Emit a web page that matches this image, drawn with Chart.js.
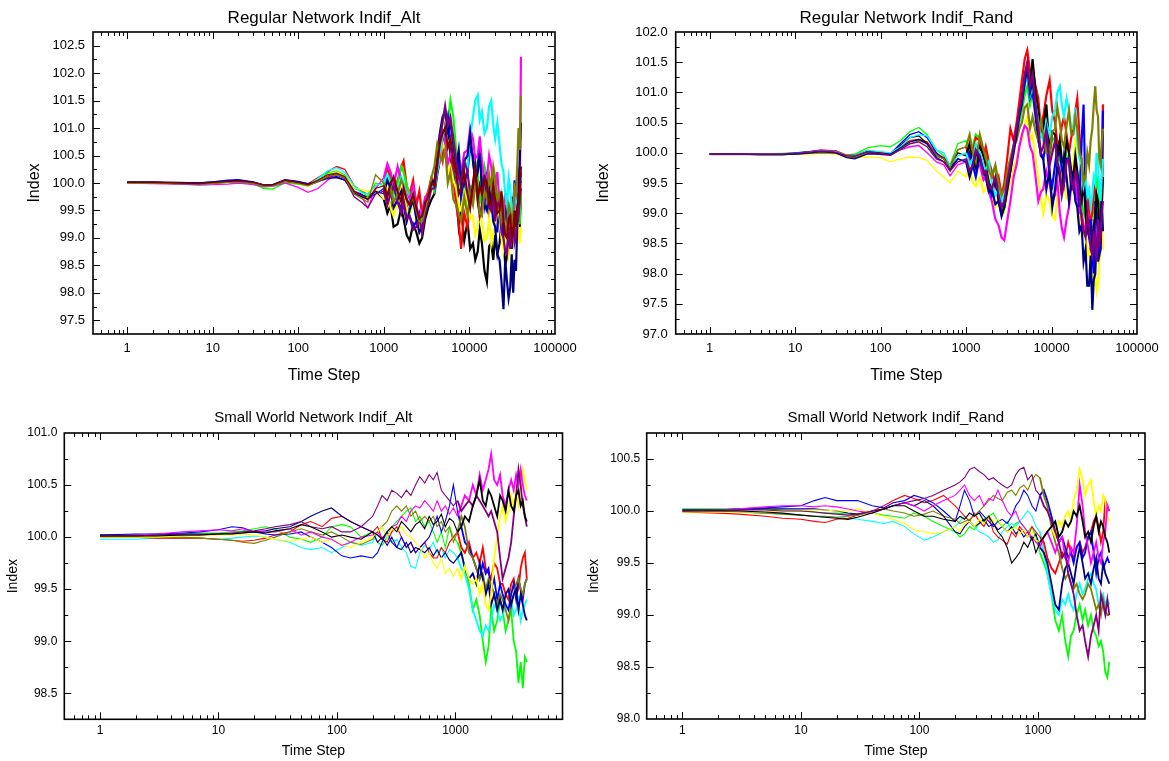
<!DOCTYPE html>
<html><head><meta charset="utf-8">
<script src="https://cdn.jsdelivr.net/npm/chart.js@4.4.1/dist/chart.umd.min.js"></script>
<style>
html,body{margin:0;padding:0;background:#fff;}
#wrap{position:relative;width:1169px;height:761px;overflow:hidden;background:#fff;}
canvas{position:absolute;}
</style></head><body>
<div id="wrap">
<canvas id="c1" width="584" height="392" style="left:0;top:0"></canvas>
<canvas id="c2" width="585" height="392" style="left:584px;top:0"></canvas>
<canvas id="c3" width="584" height="369" style="left:0;top:392px"></canvas>
<canvas id="c4" width="585" height="369" style="left:584px;top:392px"></canvas>
</div>
<script>
// ---------- axis tick labels ----------
const topXLabels = [1, 10, 100, 1000, 10000, 100000];
const botXLabels = [1, 10, 100, 1000];
const tlYLabels = [97.5, 98.0, 98.5, 99.0, 99.5, 100.0, 100.5, 101.0, 101.5, 102.0, 102.5];
const trYLabels = [97.0, 97.5, 98.0, 98.5, 99.0, 99.5, 100.0, 100.5, 101.0, 101.5, 102.0];
const blYLabels = [98.5, 99.0, 99.5, 100.0, 100.5, 101.0];
const brYLabels = [98.0, 98.5, 99.0, 99.5, 100.0, 100.5];

// ---------- time steps ----------
const topSteps = [1,2,4,7,10,15,20,30,40,50,70,100,130,170,220,280,350,450,550,650,800,
  1000,1100,1200,1300,1450,1600,1700,1850,2000,2200,2400,2600,2800,3050,3300,3600,3900,4200,4500,4850,5200,5600,6000,6500,7000,7500,8000,8700,9500,10200,
  11000,11700,12500,13200,14000,15000,16000,17000,18000,19000,20000,21200,22500,23700,25000,26200,27500,28700,30000,31200,32500,33700,35000,36200,37500,38700,40000];
const botSteps = [1,2,3,5,7,10,13,16,20,25,30,40,50,60,75,90,110,130,160,
  200,220,240,265,290,320,350,385,420,460,500,550,600,650,700,760,820,890,960,1040,1120,1200,1300,1400,1500,1600,1700,1800,1900,2000,
  2120,2250,2380,2500,2650,2800,2950,3100,3250,3400,3550,3700,3850,4000];

// ---------- Regular Network Indif_Alt ----------
const tlBlack = [100.00,100.00,99.99,99.98,100.00,100.02,100.03,100.00,99.95,99.96,100.04,100.00,99.97,100.05,100.12,100.18,100.10,99.82,99.78,99.75,99.85,
  99.70,99.45,99.60,99.20,99.25,99.55,99.35,99.05,98.95,99.25,99.10,98.90,99.00,99.35,99.55,99.70,99.80,100.15,100.40,100.95,100.80,101.10,100.50,100.15,99.80,99.20,99.50,98.95,99.30,98.80,
  98.90,98.60,98.75,99.15,98.90,98.40,98.20,98.85,98.90,98.60,99.05,98.70,98.90,99.30,99.05,98.50,98.65,99.30,99.10,98.80,99.25,99.60,99.00,99.50,99.45,99.20,99.80];
const tlRed = [100.01,100.01,100.00,99.99,100.01,100.03,100.03,100.01,99.96,99.95,100.05,100.02,99.98,100.10,100.20,100.30,100.25,99.95,99.85,99.80,99.95,
  100.00,100.25,100.10,99.85,100.05,100.30,100.40,99.95,99.80,100.05,99.60,99.85,99.40,99.70,99.85,100.10,100.00,100.35,100.60,100.40,101.00,100.75,100.70,100.10,99.60,99.30,98.80,99.45,99.20,99.65,
  99.80,100.25,100.10,99.75,99.70,100.25,100.00,99.45,99.60,100.10,99.90,99.55,99.40,99.75,99.20,99.55,99.60,99.05,99.10,99.75,99.50,99.05,99.30,99.70,99.80,99.40,100.20];
const tlGreen = [100.00,100.00,99.99,99.98,100.00,100.01,100.02,99.98,99.90,99.89,100.00,99.98,99.95,100.05,100.18,100.22,100.15,99.90,99.85,99.75,100.00,
  99.95,100.15,100.05,99.80,100.00,100.30,100.20,99.95,99.80,99.65,99.55,99.30,99.40,99.60,99.70,99.95,99.85,100.30,100.70,101.10,101.30,101.05,101.50,101.20,100.60,100.10,99.80,100.15,99.60,99.95,
  99.90,100.40,100.20,99.65,99.80,100.30,100.10,99.55,99.70,100.05,99.80,99.40,99.30,99.75,99.50,99.05,99.20,99.65,99.40,99.00,99.60,99.35,99.20,99.70,99.50,99.25,99.80];
const tlBlue = [100.01,100.01,100.00,100.00,100.02,100.05,100.06,100.02,99.96,99.97,100.06,100.03,99.99,100.04,100.10,100.12,100.05,99.85,99.80,99.70,99.80,
  99.90,99.70,99.95,100.10,99.70,99.50,99.85,99.60,99.40,99.20,99.30,99.45,99.15,99.50,99.70,99.95,99.90,100.20,100.50,100.80,100.90,101.20,100.70,100.40,100.10,100.50,99.70,100.00,100.20,100.65,
  100.50,100.00,100.30,100.70,99.90,99.60,100.20,99.85,99.60,99.95,99.40,99.10,99.80,99.30,99.10,99.60,99.30,98.90,99.00,99.45,99.60,100.05,99.80,99.30,99.50,100.20,100.00];
const tlYellow = [100.00,100.00,99.99,99.98,99.99,100.01,100.02,99.99,99.94,99.94,100.02,99.99,99.94,100.04,100.15,100.20,100.12,99.92,99.88,99.85,99.90,
  99.70,99.85,99.55,99.40,99.65,99.90,99.80,99.55,99.40,99.65,99.50,99.20,99.30,99.55,99.80,100.05,99.95,100.25,100.40,100.75,100.60,100.20,100.30,100.05,99.90,99.60,99.50,99.85,99.70,99.35,
  99.40,99.05,99.20,99.50,99.30,98.95,99.00,99.35,98.90,99.10,99.20,99.55,99.40,99.00,98.80,99.05,99.20,98.70,98.90,99.20,99.30,99.80,99.60,99.30,99.10,98.90,99.20];
const tlMagenta = [100.00,99.99,99.98,99.96,99.97,99.98,100.00,99.97,99.93,99.94,100.00,99.92,99.83,99.90,100.05,100.15,100.10,99.85,99.75,99.55,99.90,
  100.10,100.35,100.20,99.95,100.30,100.05,100.00,99.80,99.70,99.95,99.60,99.35,99.50,99.75,99.80,100.05,100.00,100.25,100.40,100.90,100.80,100.35,100.50,100.70,100.30,100.00,100.20,100.55,100.60,101.00,
  100.80,100.45,100.50,100.85,100.40,100.00,100.10,100.50,100.30,99.90,99.90,100.20,99.60,99.30,99.30,99.80,99.80,99.20,99.40,99.00,99.20,99.70,99.60,100.10,100.20,99.60,102.30];
const tlCyan = [100.00,100.00,99.99,99.98,99.99,100.01,100.02,100.00,99.95,99.95,100.03,100.00,99.96,100.08,100.22,100.28,100.20,99.95,99.82,99.80,99.95,
  100.00,100.15,99.90,99.70,99.85,100.10,100.00,99.75,99.60,99.80,99.50,99.30,99.40,99.60,99.70,99.95,99.90,100.20,100.50,100.85,101.00,100.70,100.80,100.45,100.20,99.85,100.00,100.40,100.30,100.85,
  101.20,101.50,101.60,101.15,101.30,100.90,101.00,101.40,101.50,101.05,100.80,101.10,100.70,100.35,100.20,99.80,99.60,100.10,99.90,99.45,99.50,99.90,99.80,99.40,99.70,99.95,100.10];
const tlNavy = [100.02,100.02,100.01,100.00,100.02,100.04,100.05,100.01,99.96,99.96,100.05,100.02,99.98,100.03,100.08,100.10,100.05,99.80,99.75,99.70,99.85,
  99.80,100.05,99.90,99.55,99.70,99.85,99.60,99.30,99.50,99.70,99.35,99.10,99.20,99.50,99.75,100.05,100.00,100.50,100.90,101.20,101.30,100.95,101.10,100.70,100.30,100.60,100.00,100.40,100.50,100.90,
  100.40,100.05,100.20,100.55,99.90,99.60,99.50,99.90,99.70,99.30,99.20,98.70,98.60,98.20,97.70,98.60,98.20,97.90,98.10,98.70,98.00,98.60,98.40,99.20,99.80,100.40,101.10];
const tlPurple = [100.01,100.00,99.99,99.98,100.00,100.02,100.03,100.00,99.95,99.96,100.05,100.01,99.96,100.02,100.10,100.15,100.08,99.75,99.65,99.55,99.80,
  99.85,99.60,99.80,99.95,99.65,99.45,99.70,99.35,99.40,99.15,99.20,99.35,99.10,99.45,99.65,99.90,99.90,100.30,100.80,101.10,101.40,101.05,101.20,100.80,100.40,100.10,100.00,100.40,100.20,99.80,
  99.90,100.25,99.70,99.40,99.60,100.05,99.90,99.55,99.50,99.80,99.30,99.65,99.60,99.10,99.00,98.75,98.70,99.10,98.80,99.35,99.30,98.90,99.00,99.50,99.40,99.70,99.90];
const tlOlive = [100.00,100.00,99.99,99.98,99.99,100.01,100.02,99.99,99.94,99.95,100.02,99.99,99.95,100.03,100.12,100.15,100.10,99.80,99.72,99.65,100.15,
  100.00,99.80,99.90,99.65,99.80,100.05,99.95,99.70,99.60,99.75,99.50,99.30,99.30,99.55,99.75,100.10,100.30,100.70,100.50,100.40,100.60,100.00,100.20,99.70,99.60,99.45,99.30,99.75,99.40,99.80,
  99.60,99.95,99.80,99.45,99.40,99.85,99.70,100.15,99.90,100.30,100.10,99.70,99.80,99.35,99.60,99.10,99.20,99.60,99.50,99.20,99.40,99.90,99.80,100.30,101.00,100.60,101.60];
const tlMaroon = [100.01,100.01,100.00,99.99,100.01,100.03,100.04,100.01,99.96,99.96,100.05,100.01,99.97,100.05,100.15,100.18,100.12,99.85,99.78,99.70,99.90,
  99.95,99.75,100.00,100.10,99.85,99.65,99.90,99.70,99.60,99.80,99.55,99.35,99.40,99.65,99.75,100.00,99.95,100.35,100.70,100.90,101.00,100.65,100.80,100.40,100.20,99.80,99.90,100.20,99.80,99.55,
  100.00,100.30,99.70,99.95,99.80,100.10,100.00,99.60,99.60,99.95,99.70,99.45,99.50,99.85,99.30,99.05,99.00,99.35,99.40,99.00,99.10,99.50,99.20,99.55,99.60,99.90,100.30];

// ---------- Regular Network Indif_Rand ----------
const trBlack = [99.98,99.98,99.97,99.97,99.98,100.00,100.02,100.01,99.94,99.94,100.02,100.00,99.97,100.12,100.25,100.28,100.15,99.95,99.90,99.72,100.00,
  99.95,100.15,99.90,99.75,100.10,99.95,99.80,99.50,99.40,99.55,99.20,99.00,99.10,99.45,99.70,100.10,100.30,100.60,100.90,101.25,101.40,101.10,101.55,101.00,100.70,100.35,100.40,100.80,100.00,100.35,
  100.30,99.90,100.20,99.90,99.80,100.20,100.00,99.70,99.60,99.95,99.70,99.35,99.20,99.55,99.00,98.70,98.80,98.50,98.40,98.80,98.90,99.30,99.20,98.75,98.60,99.10,99.60];
const trRed = [99.98,99.98,99.98,99.98,99.99,100.02,100.04,100.03,99.96,99.96,100.04,100.01,99.99,100.10,100.20,100.22,100.18,99.98,99.92,99.78,100.05,
  100.10,99.90,100.00,100.25,100.20,99.95,100.10,99.85,99.70,99.45,99.60,99.30,99.50,99.95,100.40,100.20,100.50,100.85,101.20,101.55,101.70,101.35,101.40,101.10,100.90,100.40,100.60,100.95,101.20,100.70,
  100.50,100.15,100.20,100.45,100.60,100.30,100.00,100.25,100.40,100.70,100.90,100.30,99.80,99.55,99.40,99.00,99.20,98.90,99.00,99.50,99.40,99.00,98.80,98.50,98.60,99.40,100.80];
const trGreen = [99.98,99.98,99.98,99.99,100.00,100.02,100.04,100.02,99.96,99.98,100.08,100.12,100.10,100.20,100.35,100.42,100.30,100.05,99.95,99.80,100.15,
  100.20,100.05,100.10,100.30,100.25,100.00,100.00,99.80,99.60,99.75,99.50,99.35,99.40,99.70,99.90,100.15,100.30,100.50,100.70,100.95,101.10,100.80,101.00,100.75,100.60,100.30,100.40,100.10,99.90,100.25,
  100.20,99.85,99.90,99.70,99.60,99.95,99.80,99.45,99.50,99.70,99.40,99.60,99.20,99.00,98.80,99.20,99.00,98.85,98.90,99.30,99.20,99.60,99.50,99.10,99.00,99.40,99.80];
const trBlue = [99.98,99.98,99.98,99.98,100.00,100.02,100.03,100.02,99.94,99.92,100.00,100.00,99.98,100.15,100.30,100.35,100.25,100.00,99.90,99.75,99.90,
  99.85,100.00,99.80,99.60,99.95,99.80,99.70,99.45,99.30,99.55,99.40,99.10,99.20,99.55,99.80,100.10,100.40,100.65,100.90,101.20,101.30,100.90,101.00,100.60,100.20,100.00,99.90,100.20,99.60,99.45,
  99.80,100.10,100.00,99.75,99.50,99.90,99.90,99.40,99.40,99.80,99.60,99.10,100.20,100.80,99.20,98.80,98.60,98.90,98.30,98.00,99.20,98.90,98.70,98.30,98.40,99.30,100.70];
const trYellow = [99.98,99.98,99.97,99.97,99.97,99.98,99.99,99.98,99.92,99.92,99.93,99.92,99.85,99.90,99.93,99.92,99.88,99.70,99.60,99.50,99.70,
  99.60,99.75,99.50,99.45,99.60,99.35,99.40,99.55,99.30,99.10,99.20,99.00,99.00,99.30,99.50,99.75,99.90,100.15,100.20,100.45,100.60,100.20,100.30,99.90,99.60,99.25,99.00,99.30,99.20,98.95,
  98.90,99.30,99.40,99.70,99.50,99.25,99.20,99.60,99.80,100.25,99.40,99.00,98.60,98.90,98.80,98.30,98.40,98.00,97.70,98.10,98.00,97.70,97.80,98.20,98.30,98.90,98.40];
const trMagenta = [99.98,99.98,99.98,99.98,99.99,100.02,100.05,100.03,99.95,99.94,100.02,99.97,99.96,100.05,100.10,100.12,100.00,99.85,99.80,99.62,99.80,
  99.85,100.00,99.90,99.75,99.80,99.55,99.60,99.35,99.20,98.90,98.80,98.60,98.55,98.90,99.20,99.60,99.80,100.10,100.30,100.45,100.40,100.10,100.00,99.60,99.20,99.35,99.40,99.70,99.50,99.20,
  99.30,99.55,99.00,98.75,98.60,98.90,99.10,99.45,99.40,99.60,99.20,99.00,99.00,98.80,98.70,99.10,98.90,98.60,98.50,98.90,98.60,98.40,99.00,98.70,98.40,99.20,100.80];
const trCyan = [99.98,99.98,99.98,99.98,99.99,100.01,100.03,100.02,99.95,99.96,100.04,100.02,100.00,100.10,100.25,100.30,100.28,100.05,100.00,99.78,99.95,
  100.00,99.80,99.90,100.15,100.00,99.80,99.70,99.85,99.50,99.30,99.40,99.20,99.30,99.60,99.90,100.10,100.30,100.55,100.80,101.10,101.30,100.95,101.10,100.80,100.50,100.30,100.20,100.50,100.30,100.60,
  100.70,101.00,101.10,100.80,100.60,100.90,100.70,100.40,100.40,100.75,100.20,99.90,99.80,99.45,99.60,99.30,99.40,99.10,99.30,99.60,99.50,100.00,99.80,99.40,99.20,99.60,99.90];
const trNavy = [99.98,99.98,99.97,99.97,99.98,100.00,100.02,100.00,99.92,99.90,99.98,99.98,99.97,100.08,100.18,100.22,100.15,99.92,99.85,99.70,99.90,
  99.85,99.60,99.80,100.00,99.90,99.70,99.60,99.35,99.40,99.15,99.20,98.95,99.10,99.40,99.70,100.00,100.30,100.60,100.80,101.15,101.40,101.00,101.20,100.70,100.30,99.95,99.90,99.40,99.70,99.10,
  99.40,99.80,99.60,99.30,99.90,99.60,99.20,99.50,99.60,99.20,99.10,98.70,98.80,98.20,98.40,97.80,97.80,98.30,97.40,97.90,98.00,98.60,98.20,98.90,98.50,99.20,98.70];
const trPurple = [99.98,99.98,99.98,99.98,99.99,100.01,100.03,100.01,99.95,99.95,100.02,99.99,99.96,100.05,100.15,100.18,100.10,99.90,99.85,99.70,99.85,
  99.90,99.70,99.80,100.05,99.95,99.65,99.70,99.45,99.40,99.60,99.30,99.10,99.20,99.55,99.80,100.10,100.40,100.70,100.90,101.30,101.50,101.10,101.30,100.80,100.40,100.00,100.10,100.40,99.80,100.00,
  100.20,99.85,99.70,99.30,99.50,99.85,99.90,99.55,99.40,99.70,99.60,99.30,98.90,98.70,98.60,98.95,98.80,98.40,98.30,98.70,98.50,98.20,98.90,98.50,98.60,99.00,99.20];
const trOlive = [99.97,99.97,99.97,99.97,99.98,99.99,100.00,99.99,99.94,99.93,100.00,99.98,99.96,100.06,100.15,100.20,100.15,99.95,99.90,99.75,100.05,
  100.10,100.30,100.00,99.85,100.30,100.05,99.90,99.70,99.60,99.80,99.50,99.30,99.40,99.70,99.90,100.10,100.20,100.40,100.50,100.75,100.80,100.40,100.60,100.35,100.20,100.55,100.30,100.00,100.00,100.35,
  100.40,100.75,100.50,100.20,100.10,100.45,100.70,100.30,100.30,100.60,100.40,100.00,99.90,99.50,99.60,100.00,99.80,100.20,100.40,100.80,101.10,100.70,100.60,99.90,99.80,100.20,100.40];

// ---------- Small World Network Indif_Alt ----------
const blBlack = [100.01,100.01,100.01,100.02,100.02,100.03,100.03,100.04,100.05,100.04,100.06,100.08,100.12,100.10,100.05,100.00,100.02,100.00,99.98,
  100.05,100.02,99.98,100.05,100.10,100.05,100.15,100.10,100.05,100.12,100.15,100.08,100.20,100.12,100.15,100.22,100.10,100.18,100.15,100.05,100.10,100.20,100.15,100.30,100.40,100.55,100.35,100.30,100.45,100.40,
  100.30,100.20,100.40,100.35,100.25,100.45,100.30,100.25,100.40,100.45,100.30,100.35,100.20,100.15];
const blRed = [100.00,100.00,99.99,99.99,99.99,99.98,99.97,99.96,99.97,99.99,100.02,100.05,100.12,100.15,100.10,100.18,100.20,100.15,100.10,
  100.05,100.10,99.98,99.95,100.05,100.10,100.00,99.90,99.95,99.85,99.90,99.95,99.85,99.80,99.80,99.90,99.85,99.95,100.00,100.05,99.90,99.85,99.95,99.80,99.85,99.75,99.90,99.70,99.65,99.60,
  99.75,99.70,99.55,99.55,99.45,99.40,99.55,99.60,99.45,99.50,99.70,99.80,99.85,99.60];
const blGreen = [100.02,100.02,100.03,100.03,100.04,100.04,100.05,100.06,100.08,100.10,100.08,100.00,99.98,99.95,100.00,100.10,100.12,100.10,100.00,
  100.05,99.95,99.92,100.00,100.10,100.15,100.20,100.25,100.28,100.15,100.20,100.10,100.15,100.05,99.95,100.05,99.90,100.10,100.00,99.95,99.85,99.70,99.55,99.30,99.40,99.25,99.00,98.80,98.95,99.30,
  99.10,99.20,99.40,99.30,99.10,99.20,99.30,99.00,98.90,98.60,98.80,98.55,98.85,98.80];
const blBlue = [100.02,100.03,100.03,100.04,100.05,100.07,100.10,100.09,100.05,100.03,100.02,100.03,100.05,100.00,99.95,99.90,99.82,99.80,99.82,
  99.80,99.85,99.95,100.05,99.95,99.90,100.00,99.90,99.95,99.85,99.90,99.95,100.00,100.10,100.20,100.05,100.15,100.30,100.50,100.25,100.10,99.95,99.90,99.80,99.70,99.60,99.75,99.65,99.70,99.50,
  99.60,99.40,99.55,99.45,99.35,99.30,99.45,99.55,99.40,99.60,99.50,99.40,99.55,99.60];
const blYellow = [100.00,100.00,100.00,100.01,100.01,100.02,100.02,100.03,100.02,100.00,99.98,99.96,99.98,100.00,99.95,99.98,99.93,99.90,99.95,
  100.00,100.05,100.10,100.00,100.08,100.05,100.10,100.02,100.00,99.95,99.90,99.80,99.85,99.75,99.70,99.80,99.65,99.70,99.62,99.70,99.60,99.72,99.60,99.55,99.60,99.45,99.55,99.35,99.30,99.45,
  99.80,100.00,100.20,100.30,100.15,100.25,100.40,100.30,100.45,100.30,100.50,100.65,100.55,100.45];
const blMagenta = [100.01,100.02,100.03,100.05,100.06,100.07,100.06,100.08,100.05,100.05,100.05,100.08,100.02,100.05,100.00,99.98,99.92,99.95,100.00,
  100.02,100.05,99.98,100.05,100.10,100.12,100.20,100.15,100.25,100.30,100.28,100.35,100.30,100.25,100.35,100.25,100.30,100.22,100.28,100.20,100.30,100.40,100.35,100.50,100.40,100.60,100.45,100.55,100.65,100.80,
  100.55,100.50,100.60,100.40,100.30,100.45,100.55,100.45,100.60,100.50,100.65,100.50,100.40,100.35];
const blCyan = [99.98,99.98,99.99,99.99,99.99,99.98,99.99,100.00,100.01,100.00,99.98,99.95,99.90,99.88,99.90,99.85,99.90,99.95,99.92,
  99.95,100.05,100.10,100.00,99.95,99.98,99.90,99.85,99.72,99.70,99.85,99.92,99.88,99.95,99.85,99.90,99.80,99.88,99.85,99.80,99.70,99.65,99.50,99.30,99.20,99.10,99.05,99.15,99.10,99.20,
  99.35,99.30,99.20,99.25,99.35,99.30,99.40,99.25,99.30,99.40,99.20,99.30,99.35,99.40];
const blNavy = [100.02,100.02,100.02,100.03,100.03,100.03,100.03,100.04,100.05,100.06,100.08,100.10,100.15,100.20,100.25,100.28,100.20,100.15,100.10,
  100.05,99.95,100.00,99.92,100.00,99.90,99.88,99.95,99.85,99.90,99.88,99.85,99.90,99.82,99.88,99.80,99.85,99.78,99.75,99.80,99.85,99.70,99.60,99.65,99.55,99.75,99.60,99.45,99.55,99.35,
  99.45,99.30,99.40,99.30,99.45,99.50,99.35,99.45,99.50,99.30,99.45,99.35,99.25,99.20];
const blPurple = [100.01,100.01,100.02,100.02,100.02,100.03,100.04,100.05,100.06,100.08,100.10,100.12,100.15,100.10,100.08,100.10,100.05,100.05,100.10,
  100.20,100.30,100.40,100.35,100.45,100.42,100.38,100.45,100.40,100.50,100.58,100.52,100.60,100.55,100.62,100.45,100.40,100.35,100.30,100.35,100.25,100.30,100.35,100.30,100.40,100.35,100.30,100.25,100.20,100.25,
  100.15,100.05,99.80,99.60,99.70,99.80,99.95,100.20,100.40,100.65,100.50,100.30,100.20,100.10];
const blOlive = [100.00,100.00,100.00,100.00,99.99,99.98,99.97,99.95,99.94,99.97,100.00,100.05,100.08,100.05,100.02,100.05,100.00,99.95,99.93,
  99.98,100.05,100.10,100.15,100.25,100.30,100.25,100.30,100.20,100.25,100.15,100.20,100.15,100.20,100.10,100.15,100.05,100.10,99.95,100.05,100.20,100.10,99.85,99.80,99.70,99.60,99.65,99.50,99.60,99.55,
  99.45,99.35,99.45,99.40,99.30,99.20,99.35,99.45,99.55,99.60,99.50,99.45,99.55,99.60];

// ---------- Small World Network Indif_Rand ----------
const brBlack = [100.00,100.00,100.00,99.99,99.98,99.96,99.95,99.94,99.93,99.92,99.94,99.98,100.02,100.05,100.05,100.00,99.95,99.95,99.92,
  99.90,99.95,99.92,99.98,99.95,99.98,99.90,99.95,99.88,99.80,99.75,99.65,99.50,99.55,99.60,99.70,99.65,99.75,99.60,99.70,99.75,99.80,99.85,99.90,99.75,99.80,99.90,99.85,99.90,100.00,
  99.95,100.05,99.90,99.75,99.80,99.70,99.85,99.95,99.80,99.90,99.85,99.75,99.70,99.60];
const brRed = [99.99,99.98,99.97,99.95,99.93,99.92,99.90,99.89,99.92,99.93,99.96,100.00,100.05,100.10,100.15,100.12,100.08,100.10,100.15,
  100.05,100.00,99.95,99.90,99.98,99.90,99.85,99.95,99.80,99.75,99.72,99.68,99.80,99.75,99.85,99.80,99.75,99.85,99.80,99.75,99.70,99.55,99.45,99.40,99.50,99.60,99.55,99.70,99.60,99.55,
  99.65,99.70,99.60,99.65,99.75,99.80,99.90,99.95,99.85,99.70,99.80,100.10,100.05,100.00];
const brGreen = [100.02,100.02,100.02,100.02,100.01,100.00,99.99,99.98,99.98,99.97,99.97,99.98,99.96,99.95,99.93,99.98,99.95,99.90,99.85,
  99.80,99.75,99.78,99.85,99.82,99.88,99.92,99.95,99.98,99.90,99.85,99.90,99.82,99.88,99.90,99.85,99.80,99.85,99.75,99.60,99.50,99.40,99.20,98.95,98.85,99.00,98.75,98.60,98.80,98.85,
  99.00,99.10,98.95,99.05,98.90,99.00,98.85,98.80,98.70,98.75,98.65,98.45,98.40,98.55];
const brBlue = [100.01,100.01,100.02,100.03,100.04,100.05,100.10,100.13,100.10,100.10,100.10,100.05,100.03,100.08,100.10,100.15,100.12,100.08,100.00,
  99.90,100.05,100.20,100.10,99.95,100.00,99.95,99.90,99.85,99.90,99.92,99.88,99.95,100.05,100.10,100.20,100.15,100.05,100.00,100.15,100.20,100.10,99.95,99.80,99.70,99.75,99.65,99.55,99.60,99.50,
  99.65,99.70,99.55,99.60,99.75,99.80,99.60,99.40,99.55,99.60,99.45,99.50,99.55,99.50];
const brYellow = [99.99,99.99,99.99,99.99,100.00,100.00,100.01,100.01,100.00,100.00,100.02,99.98,99.95,99.92,99.88,99.82,99.80,99.78,99.80,
  99.85,99.80,99.88,99.90,99.85,99.92,99.88,99.95,99.90,99.92,99.85,99.80,99.82,99.85,99.78,99.82,99.75,99.80,99.72,99.70,99.75,99.80,99.85,99.75,99.90,99.85,99.95,100.00,99.90,100.10,
  100.20,100.40,100.30,100.15,100.25,100.30,100.10,99.95,100.05,100.00,100.15,100.10,99.95,99.90];
const brMagenta = [100.00,100.01,100.02,100.04,100.05,100.05,100.04,100.05,100.04,100.02,100.00,99.98,100.02,100.05,100.08,100.05,100.00,100.05,100.10,
  100.15,100.20,100.25,100.15,100.10,100.15,100.05,100.12,100.10,100.20,100.10,100.00,99.95,100.00,99.90,99.85,99.80,99.75,99.70,99.65,99.75,99.80,99.70,99.60,99.70,99.75,99.55,99.50,99.65,99.60,
  99.85,100.25,100.05,99.80,99.65,99.50,99.60,99.70,99.55,99.50,99.70,99.80,100.05,100.00];
const brCyan = [100.00,100.00,99.99,99.98,99.97,99.96,99.95,99.94,99.94,99.93,99.92,99.90,99.88,99.90,99.85,99.78,99.72,99.75,99.80,
  99.85,99.90,99.95,99.90,99.85,99.80,99.78,99.75,99.70,99.72,99.80,99.85,99.88,99.85,99.90,99.95,100.00,99.95,99.85,99.80,99.60,99.40,99.20,99.05,99.00,99.15,99.10,99.20,99.10,99.05,
  99.20,99.30,99.20,99.25,99.35,99.40,99.30,99.25,99.10,99.15,99.20,99.10,99.15,99.10];
const brNavy = [100.01,100.01,100.01,100.02,100.02,100.02,100.02,100.01,100.00,99.98,99.97,100.00,100.02,100.05,100.08,100.05,100.10,100.05,99.95,
  99.80,99.78,99.85,99.90,99.85,99.88,99.92,99.85,99.88,99.82,99.85,99.80,99.85,99.78,99.82,99.75,99.80,99.72,99.78,99.65,99.60,99.50,99.30,99.10,99.05,99.30,99.45,99.50,99.40,99.30,
  99.50,99.65,99.50,99.35,99.40,99.30,99.45,99.55,99.35,99.30,99.50,99.40,99.35,99.30];
const brPurple = [100.01,100.01,100.01,100.01,100.00,100.00,99.99,99.98,99.97,99.96,99.97,100.00,100.02,100.05,100.08,100.10,100.12,100.15,100.20,
  100.25,100.28,100.32,100.40,100.42,100.38,100.35,100.30,100.32,100.28,100.25,100.22,100.25,100.35,100.40,100.42,100.30,100.35,100.20,100.15,100.05,100.00,99.90,99.80,99.70,99.55,99.60,99.40,99.30,99.20,
  99.00,98.85,98.90,98.75,98.60,98.80,98.90,99.00,98.85,99.20,99.10,99.00,99.15,99.00];
const brOlive = [100.00,100.00,99.99,99.98,99.97,99.96,99.95,99.95,99.94,99.95,99.96,100.00,100.02,100.00,99.98,99.95,99.97,100.00,99.95,
  99.92,99.88,99.90,99.92,99.95,100.00,100.05,100.10,100.15,100.12,100.10,100.18,100.20,100.15,100.22,100.25,100.20,100.30,100.35,100.32,100.15,100.05,99.85,99.70,99.60,99.45,99.35,99.40,99.30,99.25,
  99.30,99.20,99.15,99.20,99.30,99.25,99.15,99.05,99.10,99.00,99.15,99.05,99.00,99.00];

// ---------- styling ----------
const COLORS = {black:'#000000', red:'#ff0000', green:'#00ff00', blue:'#0000ff', yellow:'#ffff00',
  magenta:'#ff00ff', cyan:'#00ffff', navy:'#000080', purple:'#800080', olive:'#808000', maroon:'#800000'};
const FONT = '"Liberation Sans", Arial, Helvetica, sans-serif';

function pts(xs, ys) { return xs.map((x, i) => ({x: x, y: ys[i]})); }

function framePlugin(p) {
  return {
    id: 'frame',
    afterDraw(chart) {
      const {ctx, chartArea: a, scales} = chart;
      const xs = scales.x, ys = scales.y;
      ctx.save();
      ctx.strokeStyle = '#000';
      ctx.lineWidth = 1;
      ctx.beginPath();
      for (let e = -1; e <= 5; e++) {
        for (let k = 1; k <= 9; k++) {
          const v = k * Math.pow(10, e);
          if (v < p.xMin * 1.0001 || v > p.xMax * 0.9999) continue;
          const px = Math.round(xs.getPixelForValue(v)) + 0.5;
          const len = k === 1 ? 7 : 4;
          ctx.moveTo(px, a.bottom); ctx.lineTo(px, a.bottom - len);
          ctx.moveTo(px, a.top); ctx.lineTo(px, a.top + len);
        }
      }
      for (let v = p.yMin; v <= p.yMax + 1e-9; v += 0.25) {
        const r = Math.round(v * 100) / 100;
        if (r <= p.yMin + 1e-9 || r >= p.yMax - 1e-9) continue;
        const major = Math.abs(r * 2 - Math.round(r * 2)) < 1e-6;
        const py = Math.round(ys.getPixelForValue(r)) + 0.5;
        const len = major ? 7 : 4;
        ctx.moveTo(a.left, py); ctx.lineTo(a.left + len, py);
        ctx.moveTo(a.right, py); ctx.lineTo(a.right - len, py);
      }
      ctx.stroke();
      ctx.lineWidth = 1.6;
      ctx.strokeRect(a.left, a.top, a.right - a.left, a.bottom - a.top);
      ctx.restore();
    }
  };
}

function makeChart(id, p) {
  const cv = document.getElementById(id);
  const W = cv.width, H = cv.height;
  const titleLH = p.titleSize * 1.2;
  return new Chart(cv, {
    type: 'line',
    data: {
      datasets: p.series.map(s => ({
        label: s[0], data: pts(p.xs, s[1]),
        borderColor: COLORS[s[0]], backgroundColor: COLORS[s[0]],
        borderWidth: p.lw, pointRadius: 0, pointHoverRadius: 0, tension: 0, fill: false,
        segment: {borderWidth: c => (c.p0.parsed.x >= p.denseFrom ? p.lwDense : p.lw)}
      }))
    },
    options: {
      responsive: false, animation: false, devicePixelRatio: 1,
      events: [],
      layout: {padding: {left: 0, top: 0, right: W - p.area.right, bottom: 0}},
      plugins: {
        legend: {display: false}, tooltip: {enabled: false},
        title: {
          display: true, text: p.title, color: '#000', fullSize: false,
          font: {family: FONT, size: p.titleSize, weight: 'normal'},
          padding: {top: p.titleTop, bottom: p.area.top - titleLH - p.titleTop}
        }
      },
      scales: {
        x: {
          type: 'logarithmic', min: p.xMin, max: p.xMax, bounds: 'data',
          grid: {display: false, drawTicks: false}, border: {display: false},
          ticks: {autoSkip: false, maxRotation: 0, minRotation: 0, color: '#000',
            font: {family: FONT, size: p.tickSize}, padding: p.xPad,
            callback: v => String(v)},
          title: {display: true, text: 'Time Step', color: '#000',
            font: {family: FONT, size: p.axSize}, padding: {top: 0, bottom: p.xTitleB}},
          afterBuildTicks: s => { s.ticks = p.xLabels.map(v => ({value: v})); },
          afterFit: s => { s.height = H - p.area.bottom; }
        },
        y: {
          type: 'linear', min: p.yMin, max: p.yMax, bounds: 'data',
          grid: {display: false, drawTicks: false}, border: {display: false},
          ticks: {color: '#000', font: {family: FONT, size: p.tickSize}, padding: p.yPad,
            callback: v => Number(v).toFixed(1)},
          title: {display: true, text: 'Index', color: '#000',
            font: {family: FONT, size: p.axSize}, padding: {top: p.yTitleT, bottom: 0}},
          afterBuildTicks: s => { s.ticks = p.yLabels.map(v => ({value: v})); },
          afterFit: s => { s.width = p.area.left; }
        }
      }
    },
    plugins: [framePlugin(p)]
  });
}

makeChart('c1', {
  title: 'Regular Network Indif_Alt', xs: topSteps, xLabels: topXLabels, yLabels: tlYLabels,
  xMin: 0.4, xMax: 100000, yMin: 97.25, yMax: 102.75,
  area: {left: 93, top: 32, right: 555, bottom: 334},
  titleSize: 17, titleTop: 8, tickSize: 13, axSize: 16, yPad: 8, xPad: 7, yTitleT: 25.4, xTitleB: 6.4,
  lw: 1.3, lwDense: 2.2, denseFrom: 1000,
  series: [['maroon', tlMaroon], ['olive', tlOlive], ['purple', tlPurple], ['navy', tlNavy], ['cyan', tlCyan],
    ['magenta', tlMagenta], ['yellow', tlYellow], ['blue', tlBlue], ['green', tlGreen], ['red', tlRed], ['black', tlBlack]]
});
makeChart('c2', {
  title: 'Regular Network Indif_Rand', xs: topSteps, xLabels: topXLabels, yLabels: trYLabels,
  xMin: 0.4, xMax: 100000, yMin: 97, yMax: 102,
  area: {left: 91.7, top: 32, right: 553, bottom: 334},
  titleSize: 17, titleTop: 8, tickSize: 13, axSize: 16, yPad: 8, xPad: 7, yTitleT: 10.4, xTitleB: 6.4,
  lw: 1.3, lwDense: 2.2, denseFrom: 1000,
  series: [['purple', trPurple], ['navy', trNavy], ['olive', trOlive], ['cyan', trCyan], ['black', trBlack],
    ['blue', trBlue], ['red', trRed], ['magenta', trMagenta], ['yellow', trYellow], ['green', trGreen]]
});
makeChart('c3', {
  title: 'Small World Network Indif_Alt', xs: botSteps, xLabels: botXLabels, yLabels: blYLabels,
  xMin: 0.5, xMax: 8000, yMin: 98.25, yMax: 101,
  area: {left: 64.3, top: 41, right: 562.5, bottom: 327.3},
  titleSize: 15, titleTop: 17, tickSize: 12, axSize: 14, yPad: 7, xPad: 4.5, yTitleT: 4.6, xTitleB: 1.6,
  lw: 1.1, lwDense: 1.8, denseFrom: 1000,
  series: [['black', blBlack], ['purple', blPurple], ['magenta', blMagenta], ['yellow', blYellow], ['navy', blNavy],
    ['olive', blOlive], ['blue', blBlue], ['red', blRed], ['cyan', blCyan], ['green', blGreen]]
});
makeChart('c4', {
  title: 'Small World Network Indif_Rand', xs: botSteps, xLabels: botXLabels, yLabels: brYLabels,
  xMin: 0.5, xMax: 8000, yMin: 98, yMax: 100.75,
  area: {left: 62.7, top: 41, right: 561, bottom: 327},
  titleSize: 15, titleTop: 17, tickSize: 12, axSize: 14, yPad: 6.5, xPad: 4.5, yTitleT: 1.6, xTitleB: 1.6,
  lw: 1.1, lwDense: 1.8, denseFrom: 1000,
  series: [['black', brBlack], ['purple', brPurple], ['magenta', brMagenta], ['yellow', brYellow], ['navy', brNavy],
    ['olive', brOlive], ['blue', brBlue], ['red', brRed], ['cyan', brCyan], ['green', brGreen]]
});
</script>
</body></html>
